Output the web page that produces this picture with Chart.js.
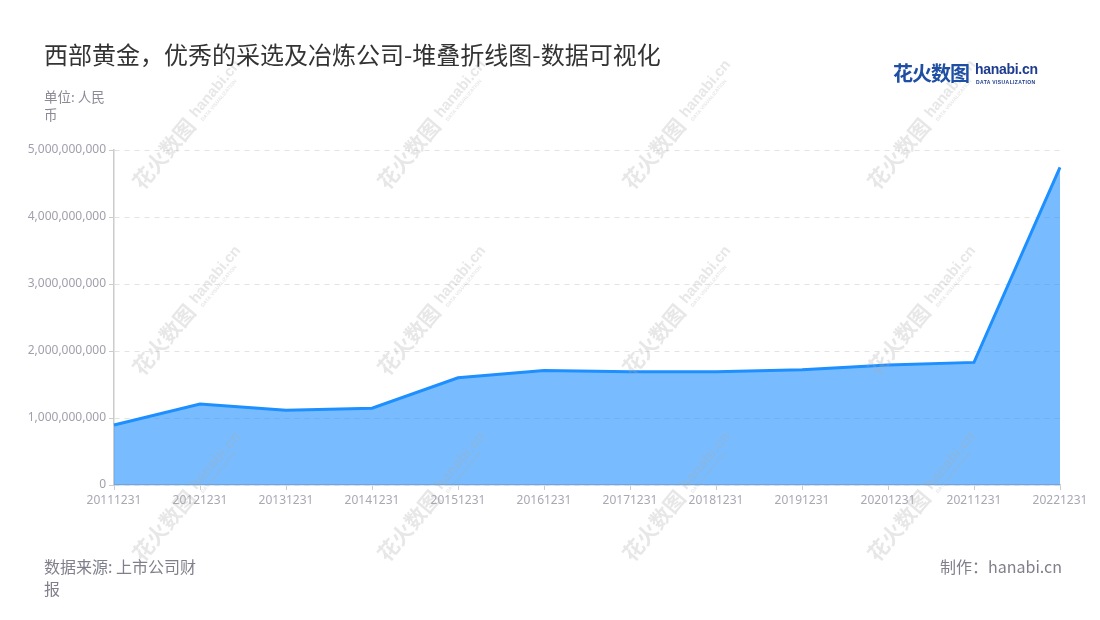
<!DOCTYPE html>
<html>
<head>
<meta charset="utf-8">
<script src="https://cdn.jsdelivr.net/npm/chart.js@4.4.1/dist/chart.umd.min.js"></script>
<style>
  html, body { margin: 0; padding: 0; background: #fff; }
  body { width: 1100px; height: 620px; position: relative; overflow: hidden;
         font-family: "Noto Sans CJK SC", "Noto Sans", sans-serif; }
  #wrap { position: absolute; left: 0; top: 0; width: 1100px; height: 620px; }
  .title { position: absolute; left: 44px; top: 36px; font-size: 24px; color: #333; }
  .unit { position: absolute; left: 44px; top: 87px; font-size: 13.5px; line-height: 18px; color: #8a8a96; }
  .source { position: absolute; left: 44px; top: 555px; font-size: 16px; line-height: 22px; color: #80808c; }
  .maker { position: absolute; right: 38px; top: 555px; font-size: 16px; line-height: 22px; color: #80808c; }
  .logo { position: absolute; left: 893px; top: 58px; height: 30px; }
  .logo .cn { position: absolute; left: 0; top: 0; font-size: 20px; font-weight: 700; color: #1f4fa3; white-space: nowrap; letter-spacing: -1px; }
  .logo .en { position: absolute; left: 82px; top: 3px; font-family: "Liberation Sans", sans-serif; font-size: 14px; font-weight: 700; color: #1d3c8f; white-space: nowrap; letter-spacing: -0.3px; }
  .logo .sub { position: absolute; left: 83px; top: 21px; font-family: "Liberation Sans", sans-serif; font-size: 5px; font-weight: 700; color: #1d3c8f; white-space: nowrap; letter-spacing: 0.4px; }
</style>
</head>
<body>
<div id="wrap"><canvas id="chart" width="1100" height="620"></canvas></div>
<div class="title">西部黄金，优秀的采选及冶炼公司-堆叠折线图-数据可视化</div>
<div class="unit">单位: 人民<br>币</div>
<div class="logo"><span class="cn">花火数图</span><span class="en">hanabi.cn</span><span class="sub">DATA VISUALIZATION</span></div>
<div class="source">数据来源: 上市公司财<br>报</div>
<div class="maker">制作：hanabi.cn</div>
<script>
// 报告期
const periods = ['20111231', '20121231', '20131231', '20141231', '20151231', '20161231',
                 '20171231', '20181231', '20191231', '20201231', '20211231', '20221231'];
// 数值（人民币）
const values = [896000000, 1210000000, 1115000000, 1145000000, 1600000000, 1710000000,
                1690000000, 1690000000, 1720000000, 1790000000, 1830000000, 4740000000];
const yMax = 5000000000;
const yStep = 1000000000;

// 水印
const watermark = {
  id: 'watermark',
  afterDraw(chart) {
    const ctx = chart.ctx;
    ctx.save();
    ctx.fillStyle = 'rgba(170,170,170,0.28)';
    for (let jx = 192; jx < 1100; jx += 245) {
      for (let jy = 120; jy < 620; jy += 186) {
        ctx.save();
        ctx.translate(jx, jy);
        ctx.rotate(-50 * Math.PI / 180);
        ctx.textBaseline = 'middle';
        ctx.font = 'bold 21px "Noto Sans CJK SC"';
        ctx.textAlign = 'right';
        ctx.fillText('花火数图', -2, 0);
        ctx.textAlign = 'left';
        ctx.font = 'bold 15px "Liberation Sans"';
        ctx.fillText('hanabi.cn', 4, -2);
        ctx.font = 'bold 5px "Liberation Sans"';
        ctx.fillText('DATA VISUALIZATION', 6, 8);
        ctx.restore();
      }
    }
    ctx.restore();
  }
};

const labelFont = { family: '"Noto Sans", "Noto Sans CJK SC", sans-serif', size: 12 };

new Chart(document.getElementById('chart'), {
  type: 'line',
  data: {
    labels: periods,
    datasets: [{
      label: '西部黄金',
      data: values,
      borderColor: '#1e8fff',
      backgroundColor: 'rgba(30,143,255,0.6)',
      borderWidth: 3,
      fill: 'origin',
      pointRadius: 0,
      tension: 0
    }]
  },
  options: {
    responsive: false,
    animation: false,
    layout: { padding: { left: 0, right: 40, top: 150, bottom: 105 } },
    plugins: { legend: { display: false }, tooltip: { enabled: false } },
    scales: {
      x: {
        offset: false,
        grid: { drawOnChartArea: false, drawTicks: true, tickLength: 5, color: '#cccccc' },
        border: { color: '#cccccc', width: 1.5 },
        ticks: { color: '#a8a8b4', font: labelFont, padding: 3, maxRotation: 0, autoSkip: false },
        afterFit: s => { s.height = 30; }
      },
      y: {
        min: 0,
        max: yMax,
        grid: { color: '#e3e3e3', tickLength: 5, tickColor: '#cccccc', lineWidth: 1 },
        border: { color: '#cccccc', width: 1.5, dash: [5, 5] },
        ticks: {
          stepSize: yStep,
          color: '#a0a0ac',
          font: labelFont,
          padding: 3,
          callback: v => v.toLocaleString('en-US')
        },
        afterFit: s => { s.width = 114; }
      }
    }
  },
  plugins: [watermark]
});
</script>
</body>
</html>
